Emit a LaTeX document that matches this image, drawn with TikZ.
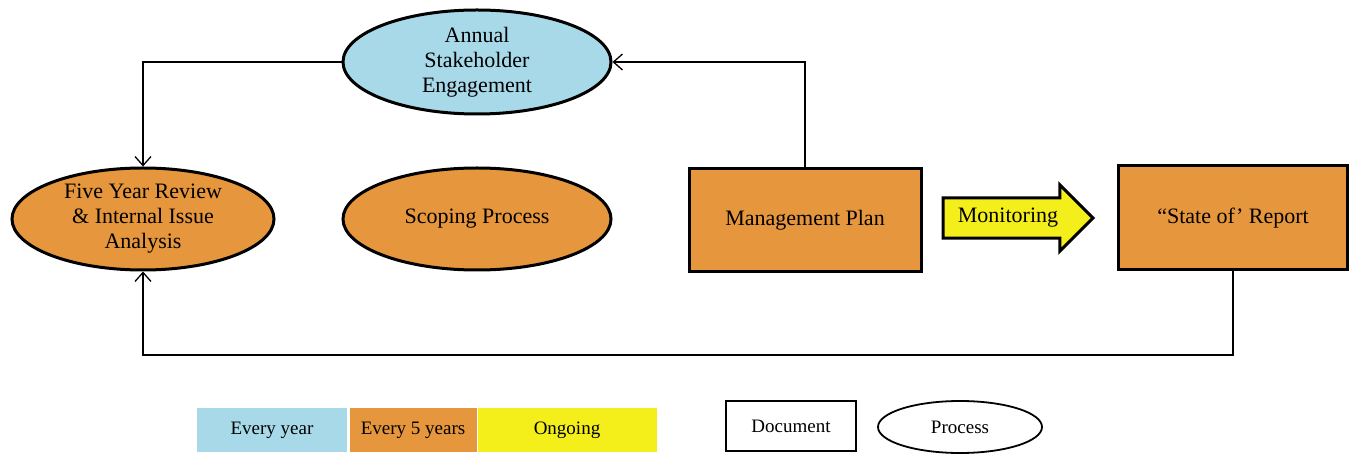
\documentclass[tikz,border=0pt]{standalone}
\usepackage{fontspec}
\setmainfont{Liberation Serif}
\usetikzlibrary{shapes.geometric,shapes.arrows,arrows.meta}
\definecolor{yearblue}{HTML}{A8D9E9}
\definecolor{fiveorange}{HTML}{E6963C}
\definecolor{ongoingyellow}{HTML}{F4EE1A}
\begin{document}
\begin{tikzpicture}[x=1bp,y=-1bp,>={Straight Barb[length=9bp,width=16bp]},line join=miter,
  proc/.style={draw=black,ellipse,line width=3bp,inner sep=0pt,align=center,font=\fontsize{22bp}{25bp}\selectfont},
  doc/.style={draw=black,rectangle,line width=3bp,inner sep=0pt,align=center,font=\fontsize{22bp}{25bp}\selectfont},
  key/.style={rectangle,inner sep=0pt,font=\fontsize{19bp}{22bp}\selectfont},
  link/.style={line width=1.3bp}]
\useasboundingbox (0,0) rectangle (1353,455);
%%
\node (annual) at (477,62) [proc,fill=yearblue,minimum width=268bp,minimum height=104bp] {Annual\\Stakeholder\\Engagement};
  \node (five) at (143,219) [proc,fill=fiveorange,minimum width=262bp,minimum height=102bp] {Five Year Review\\\& Internal  Issue\\Analysis};
  \node (scope) at (477,219) [proc,fill=fiveorange,minimum width=268bp,minimum height=102bp] {Scoping Process};
  \node (mgmt) at (805,220) [doc,fill=fiveorange,minimum width=232bp,minimum height=103bp] {Management Plan};
  \node (mon) at (1008,218) [single arrow,draw=black,line width=3bp,fill=ongoingyellow,inner xsep=2bp,inner ysep=9bp,minimum height=150bp,single arrow head extend=13bp,font=\fontsize{22bp}{25bp}\selectfont] {Monitoring};
  \node (report) at (1233,218) [doc,fill=fiveorange,minimum width=229bp,minimum height=104bp] {``State of' Report};
  \coordinate (back) at (1233,355);
  %% legend
  \node (kyear) at (272,430) [key,fill=yearblue,minimum width=150bp,minimum height=44bp] {Every year};
  \node (kfive) at (413,430) [key,fill=fiveorange,minimum width=127bp,minimum height=44bp] {Every 5 years};
  \node (kgo) at (567,430) [key,fill=ongoingyellow,minimum width=179bp,minimum height=44bp] {Ongoing};
  \node (kdoc) at (791,426) [key,draw=black,line width=1.8bp,minimum width=130bp,minimum height=50bp] {Document};
  \node (kproc) at (960,427) [key,ellipse,draw=black,line width=1.8bp,minimum width=164bp,minimum height=52bp] {Process};
  \draw [->,link] (mgmt.north) |- (annual.east);
  \draw [->,link] (annual.west) -| (five.north);
  \draw [->,link] (report.south) -- (back) -| (five.south);
%
\end{tikzpicture}
\end{document}
